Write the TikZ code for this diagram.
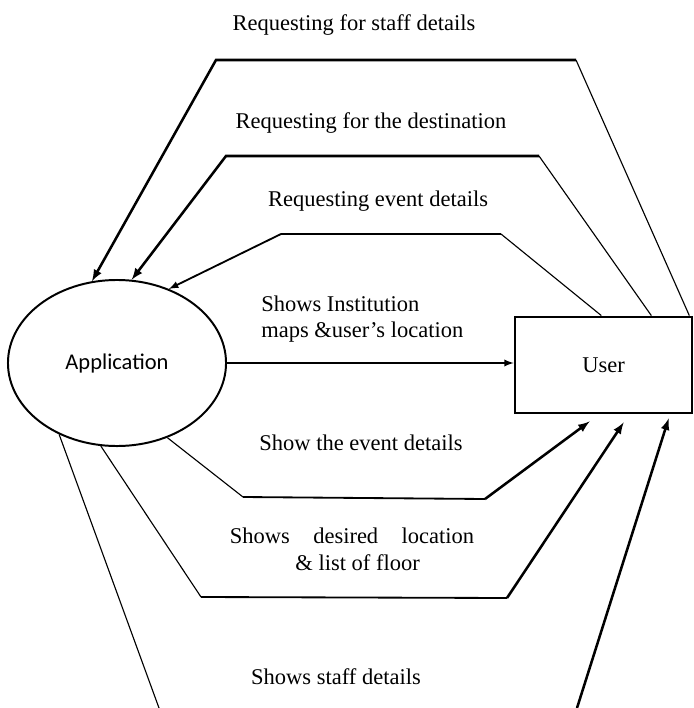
\documentclass[tikz,border=0pt]{standalone}
\usepackage{fontspec}
\setmainfont{Liberation Serif}
\newfontfamily\appfont{Carlito}
\usetikzlibrary{shapes.geometric,calc}

\begin{document}
\begin{tikzpicture}[x=0.025cm, y=-0.025cm,
        every node/.append style={font=\fontsize{16}{19}\selectfont},
        thin line/.style={line width=0.8pt},
        mid line/.style={line width=1.3pt},
        thick line/.style={line width=1.8pt}]
        \useasboundingbox (0,0) rectangle (694,708);

        \node [draw, ellipse, line width=1.4pt, minimum width=5.45cm, minimum height=4.15cm, font=\appfont\fontsize{16}{19}\selectfont] (App) at (117,363) {Application};
        \node [draw, line width=2pt, minimum width=4.42cm, minimum height=2.4cm] (User) at (603.5,365) {User};

        % labels
        \node (L1) at (354,25) {Requesting for staff details};
        \node (L2) at (371,123) {Requesting for the destination};
        \node (L3) at (378,201) {Requesting event details};
        \node [align=left, anchor=west, inner sep=0pt] (L4) at (261,319) {Shows Institution\\maps \&user's location};
        \node (L5) at (361,443) {Show the event details};
        \node [align=center] (L6) at (352,549) {\makebox[6.1cm][s]{Shows desired location}\\ \ \ \& list of floor};
        \node (L7) at (336,677) {Shows staff details};

        % requests from the user
        \coordinate (s0) at ($(User.north east)+(-4,0)$);
        \coordinate (s1) at (576,60);
        \coordinate (s2) at (216,60);
        \draw [thin line] (s0) -- (s1);
        \draw [thick line, -latex] (s1) -- (s2) -- (App.107);

        \coordinate (d0) at ($(User.north east)+(-42,0)$);
        \coordinate (d1) at (539,156);
        \coordinate (d2) at (226,156);
        \draw [thin line] (d0) -- (d1);
        \draw [thick line, -latex] (d1) -- (d2) -- (App.80);

        \coordinate (e0) at ($(User.north east)+(-92,0)$);
        \coordinate (e1) at (501,234);
        \coordinate (e2) at (281,234);
        \draw [thin line] (e0) -- (e1);
        \draw [thick line] (e1) -- (e2);
        \draw [mid line, -latex] (e2) -- (App.55);

        % maps
        \draw [mid line, -latex] (App.east) -- (App.east -| User.west);

        % answers to the user
        \coordinate (v1) at (243,497);
        \coordinate (v2) at (485,499);
        \draw [thin line] (App.-56) -- (v1);
        \draw [mid line] (v1) -- (v2);
        \draw [thick line, -latex] (v2) -- ($(User.south west)+(76,7)$);

        \coordinate (f1) at (201,597);
        \coordinate (f2) at (507,598);
        \draw [thin line] (App.-101) -- (f1);
        \draw [mid line] (f1) -- (f2);
        \draw [thick line, -latex] (f2) -- ($(User.south west)+(110,8)$);

        \coordinate (t1) at (159,708);
        \coordinate (t2) at (577,708);
        \draw [thin line] (App.-129) -- (t1);
        \draw [thick line, -latex] (t2) -- ($(User.south west)+(155,4)$);
    \end{tikzpicture}
\end{document}
